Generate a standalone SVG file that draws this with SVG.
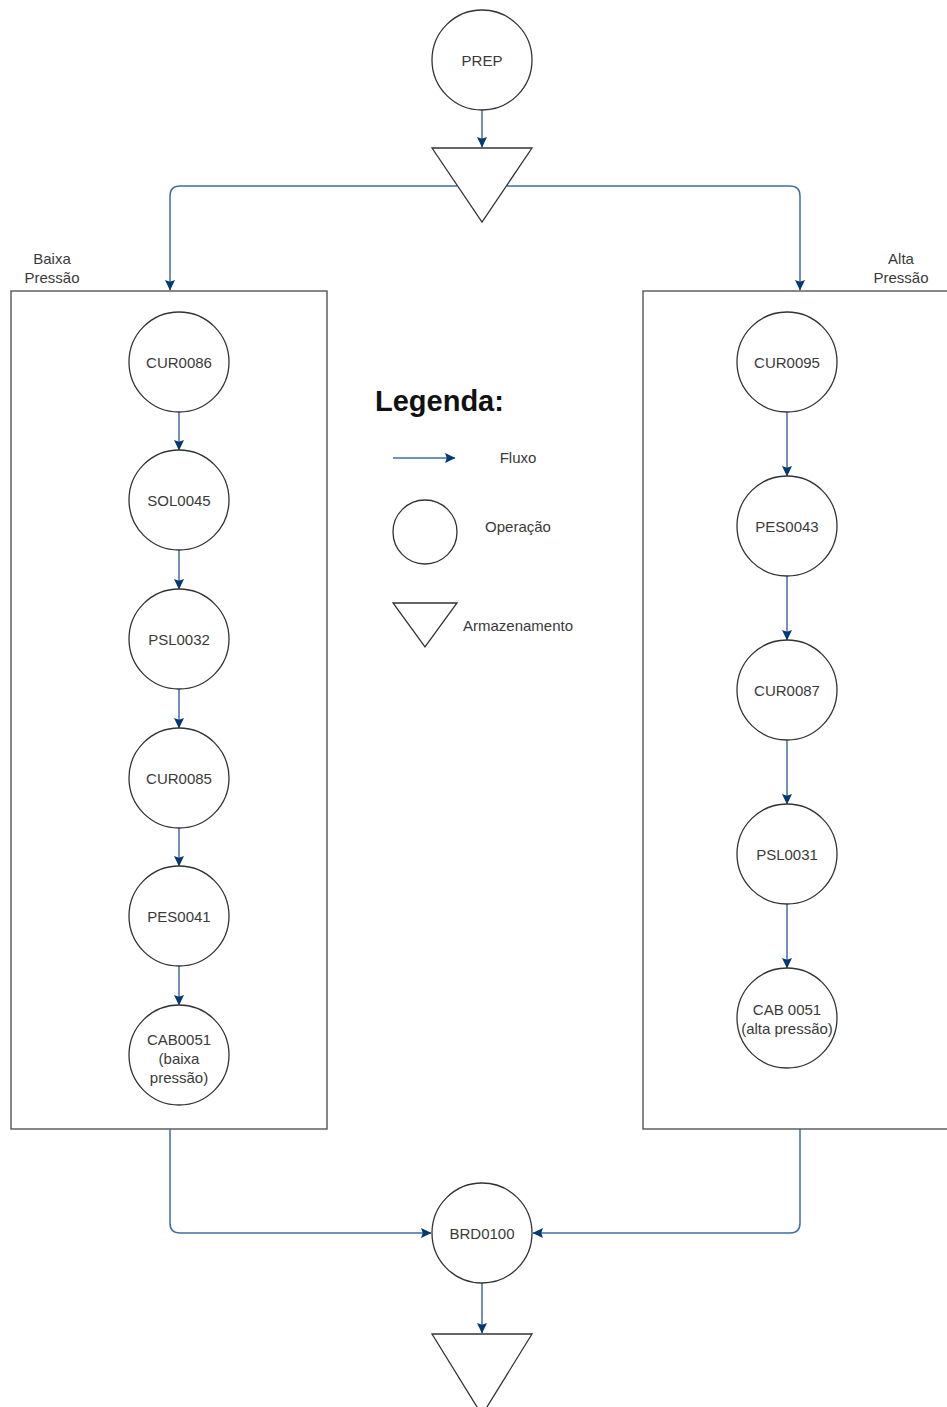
<svg xmlns="http://www.w3.org/2000/svg" width="947" height="1407" viewBox="0 0 947 1407">
<defs>
<style>
.op{fill:#fff;stroke:#333;stroke-width:1.3}
.st{fill:#fff;stroke:#333;stroke-width:1.3}
.box{fill:none;stroke:#555;stroke-width:1.4}
.lbl{font-family:"Liberation Sans",Arial,Helvetica,sans-serif;font-size:15px;fill:#3a3a3a;text-anchor:middle;dominant-baseline:central}
.edge{fill:none;stroke:#3f6ca3;stroke-width:1.5;marker-end:url(#ah)}
</style>
<marker id="ah" markerUnits="userSpaceOnUse" markerWidth="11" markerHeight="11" refX="10" refY="5.5" orient="auto" viewBox="0 0 11 11">
<path d="M0,0.5 L10.5,5.5 L0,10.5 L1.8,5.5 Z" fill="#003a75"/>
</marker>
</defs>
<rect width="947" height="1407" fill="#fff"/>

<g id="box-baixa">
<rect class="box" x="11" y="291" width="316" height="838"/>
<text class="lbl" x="52" y="258">Baixa</text>
<text class="lbl" x="52" y="277">Pressão</text>
</g>
<g id="box-alta">
<rect class="box" x="643" y="291" width="330" height="838"/>
<text class="lbl" x="901" y="258">Alta</text>
<text class="lbl" x="901" y="277">Pressão</text>
</g>

<g id="connectors">
<path class="edge" d="M482,110 V147"/>
<path class="edge" d="M457,186 H180 Q170,186 170,196 V290"/>
<path class="edge" d="M507,186 H790 Q800,186 800,196 V290"/>
<path class="edge" d="M179,412 V450"/>
<path class="edge" d="M179,550 V589"/>
<path class="edge" d="M179,689 V728"/>
<path class="edge" d="M179,828 V866"/>
<path class="edge" d="M179,966 V1005"/>
<path class="edge" d="M787,412 V476"/>
<path class="edge" d="M787,576 V640"/>
<path class="edge" d="M787,740 V804"/>
<path class="edge" d="M787,904 V968"/>
<path class="edge" d="M170,1129 V1223 Q170,1233 180,1233 H431"/>
<path class="edge" d="M800,1129 V1223 Q800,1233 790,1233 H533"/>
<path class="edge" d="M482,1283 V1333"/>
</g>

<g id="PREP"><circle class="op" cx="482" cy="60" r="50"/><text class="lbl" x="482" y="60">PREP</text></g>
<g id="storage-top"><polygon class="st" points="432,148 532,148 482,222"/></g>

<g id="CUR0086"><circle class="op" cx="179" cy="362" r="50"/><text class="lbl" x="179" y="362">CUR0086</text></g>
<g id="SOL0045"><circle class="op" cx="179" cy="500" r="50"/><text class="lbl" x="179" y="500">SOL0045</text></g>
<g id="PSL0032"><circle class="op" cx="179" cy="639" r="50"/><text class="lbl" x="179" y="639">PSL0032</text></g>
<g id="CUR0085"><circle class="op" cx="179" cy="778" r="50"/><text class="lbl" x="179" y="778">CUR0085</text></g>
<g id="PES0041"><circle class="op" cx="179" cy="916" r="50"/><text class="lbl" x="179" y="916">PES0041</text></g>
<g id="CAB0051-baixa"><circle class="op" cx="179" cy="1055" r="50"/>
<text class="lbl" x="179" y="1039">CAB0051</text><text class="lbl" x="179" y="1058">(baixa</text><text class="lbl" x="179" y="1077">pressão)</text></g>

<g id="CUR0095"><circle class="op" cx="787" cy="362" r="50"/><text class="lbl" x="787" y="362">CUR0095</text></g>
<g id="PES0043"><circle class="op" cx="787" cy="526" r="50"/><text class="lbl" x="787" y="526">PES0043</text></g>
<g id="CUR0087"><circle class="op" cx="787" cy="690" r="50"/><text class="lbl" x="787" y="690">CUR0087</text></g>
<g id="PSL0031"><circle class="op" cx="787" cy="854" r="50"/><text class="lbl" x="787" y="854">PSL0031</text></g>
<g id="CAB0051-alta"><circle class="op" cx="787" cy="1018" r="50"/>
<text class="lbl" x="787" y="1009">CAB 0051</text><text class="lbl" x="787" y="1028">(alta pressão)</text></g>

<g id="BRD0100"><circle class="op" cx="482" cy="1233" r="50"/><text class="lbl" x="482" y="1233">BRD0100</text></g>
<g id="storage-bottom"><polygon class="st" points="432,1334 532,1334 482,1415"/></g>

<g id="legend">
<text x="375" y="411" font-family="'Liberation Sans',Arial,sans-serif" font-size="29" font-weight="bold" fill="#111">Legenda:</text>
<path class="edge" d="M393,458 H455"/>
<text class="lbl" x="518" y="457">Fluxo</text>
<circle class="op" cx="425" cy="532" r="32"/>
<text class="lbl" x="518" y="526">Operação</text>
<polygon class="st" points="393,603 457,603 425,647"/>
<text class="lbl" x="518" y="625">Armazenamento</text>
</g>
</svg>
